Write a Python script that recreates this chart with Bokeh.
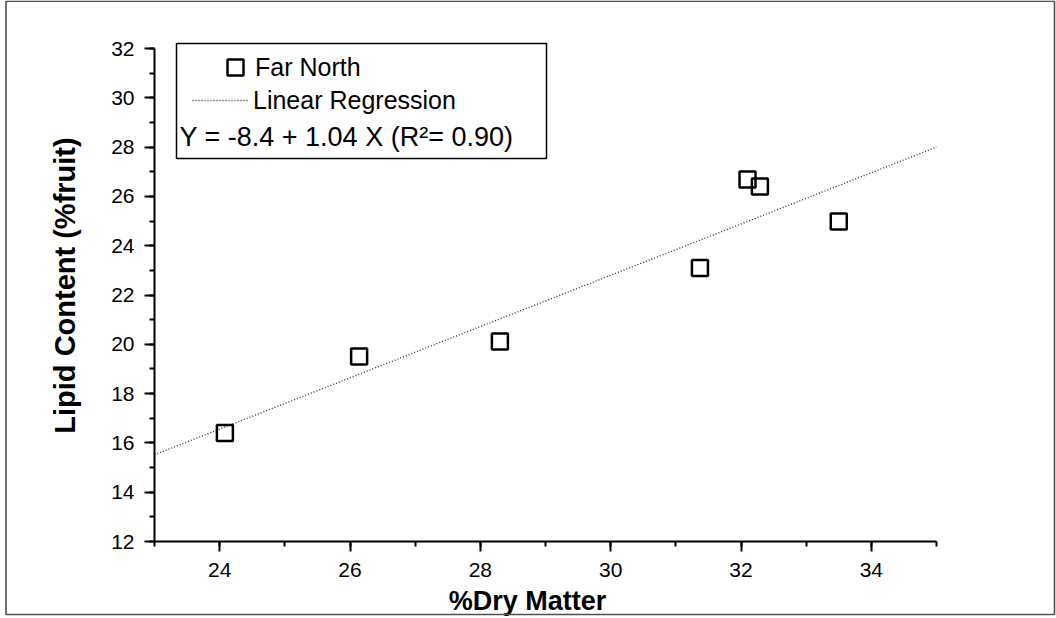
from bokeh.plotting import figure
from bokeh.models import (Range1d, SingleIntervalTicker, Legend, LegendItem,
                          BoxAnnotation, Label)
from bokeh.embed import file_html
from bokeh.resources import INLINE

# ---- data ----
dry_matter = [24.08, 26.14, 28.30, 31.37, 32.10, 32.29, 33.50]
lipid = [16.40, 19.51, 20.11, 23.10, 26.69, 26.40, 24.98]
reg_intercept = -8.4
reg_slope = 1.04
x_bounds = (23, 35)
y_bounds = (12, 32)
reg_x = list(x_bounds)
reg_y = [reg_intercept + reg_slope * v for v in reg_x]
series_label = "Far North"
reg_label = "Linear Regression"
equation = "Y = -8.4 + 1.04 X (R\u00b2= 0.90)"
x_title = "%Dry Matter"
y_title = "Lipid Content (%fruit)"

FONT = "Liberation Sans"
W, H = 1056, 618
# pixel placement of the axes box (canvas coordinates, y down)
AX_L, AX_R, AX_T, AX_B = 154, 936, 48, 541
sx = (AX_R - AX_L) / (x_bounds[1] - x_bounds[0])
sy = (AX_B - AX_T) / (y_bounds[1] - y_bounds[0])
x_rng = Range1d(x_bounds[0] - AX_L / sx, x_bounds[1] + (W - AX_R) / sx)
y_rng = Range1d(y_bounds[0] - (H - AX_B) / sy, y_bounds[1] + AX_T / sy)

p = figure(width=W, height=H, output_backend="svg", toolbar_location=None,
           x_range=x_rng, y_range=y_rng,
           min_border_left=0, min_border_right=0, min_border_top=0,
           min_border_bottom=0)
p.outline_line_color = None
p.xgrid.visible = False
p.ygrid.visible = False
p.background_fill_color = "white"
p.border_fill_color = "white"

p.xaxis.fixed_location = y_bounds[0]
p.yaxis.fixed_location = x_bounds[0]

for ax, bnds, so in ((p.xaxis[0], x_bounds, 11), (p.yaxis[0], y_bounds, 10)):
    ax.ticker = SingleIntervalTicker(interval=2, num_minor_ticks=2)
    ax.bounds = bnds
    ax.axis_line_width = 2
    ax.axis_line_color = "black"
    ax.major_tick_line_width = 2
    ax.minor_tick_line_width = 2
    ax.major_tick_line_color = "black"
    ax.minor_tick_line_color = "black"
    ax.major_tick_out = 10
    ax.major_tick_in = 0
    ax.minor_tick_out = 5
    ax.minor_tick_in = 0
    ax.major_label_text_font = FONT
    ax.major_label_text_font_size = "21px"
    ax.major_label_text_color = "black"
    ax.major_label_standoff = so

def screen_label(text, x, y, size, bold=False, angle=0.0, align="center"):
    return Label(x=x, y=H - y, x_units="screen", y_units="screen", text=text,
                 angle=angle, text_font=FONT, text_font_size=size,
                 text_font_style="bold" if bold else "normal",
                 text_color="black", text_align=align, text_baseline="middle")

# axis titles
p.add_layout(screen_label(x_title, 527, 600, "27px", bold=True))
p.add_layout(screen_label(y_title, 64, 285, "29px", bold=True, angle=1.5707963))

# regression line
reg_line = p.line(x=reg_x, y=reg_y, line_color="#333333", line_width=1.4,
                  line_dash="1 2")

pts = p.scatter(x=dry_matter, y=lipid, marker="square", size=16,
                fill_color=None, line_color="black", line_width=2.5)

def screen_box(l, r, t, b, color, lw):
    return BoxAnnotation(left=l, right=r, top=H - t, bottom=H - b,
                         left_units="screen", right_units="screen",
                         bottom_units="screen", top_units="screen",
                         fill_color=None, fill_alpha=0,
                         line_color=color, line_alpha=1.0, line_width=lw)

# legend box
p.add_layout(screen_box(176, 546, 43, 158, "black", 1.5))

legend_a = Legend(items=[LegendItem(label=series_label, renderers=[pts])],
                  location=(215, H - 87), glyph_width=40, glyph_height=40,
                  padding=0, margin=0, label_standoff=-4,
                  border_line_color=None, background_fill_alpha=0,
                  label_text_font=FONT, label_text_font_size="25px",
                  label_text_color="black")
legend_b = Legend(items=[LegendItem(label=reg_label, renderers=[reg_line])],
                  location=(192, H - 120), glyph_width=57, glyph_height=40,
                  padding=0, margin=0, label_standoff=4,
                  border_line_color=None, background_fill_alpha=0,
                  label_text_font=FONT, label_text_font_size="25px",
                  label_text_color="black")
p.add_layout(legend_a)
p.add_layout(legend_b)

p.add_layout(screen_label(equation, 179, 136, "27px", align="left"))

# outer border
p.add_layout(screen_box(5.5, 1054, 0.8, 614, "#505050", 1.6))

open("out.html", "w").write(file_html(p, INLINE))
